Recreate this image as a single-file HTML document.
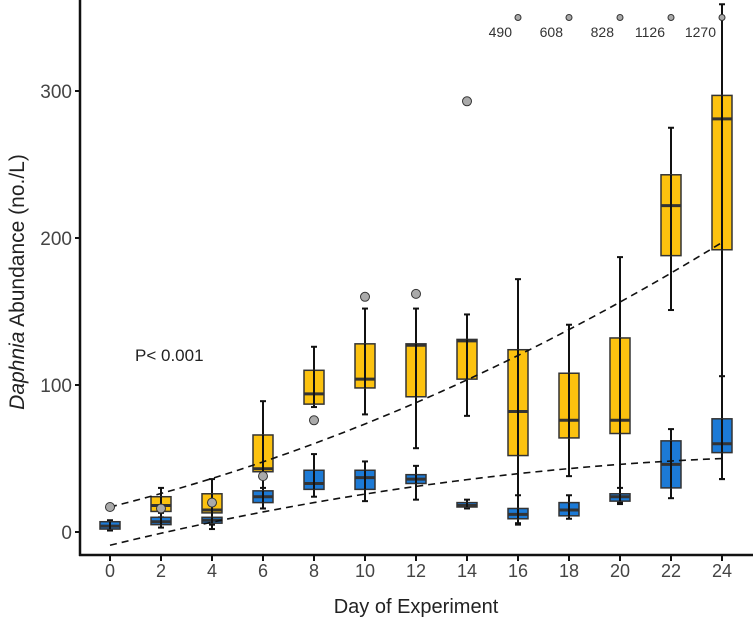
<!DOCTYPE html>
<html><head><meta charset="utf-8"><style>
body{margin:0;background:#fff}
svg{display:block;font-family:"Liberation Sans",sans-serif}
</style></head><body>
<svg id="chart" width="753" height="624">
<text x="416" y="613" text-anchor="middle" font-size="20" fill="#222">Day of Experiment</text>
<text transform="translate(24,282) rotate(-90)" text-anchor="middle" font-size="21" fill="#222"><tspan font-style="italic">Daphnia</tspan> Abundance (no./L)</text>
<text x="135" y="361" font-size="17" fill="#222">P&lt; 0.001</text>
</svg>
<script>
const days=[0,2,4,6,8,10,12,14,16,18,20,22,24];
const yelLo=[null,10,5,16,85,80,57,79,6,38,20,151,36];
const yelQ1=[null,14,13,41,87,98,92,104,52,64,67,188,192];
const yelMed=[null,18,15,43,94,104,127,130,82,76,76,222,281];
const yelQ3=[null,24,26,66,110,128,128,131,124,108,132,243,297];
const yelHi=[null,30,36,89,126,152,152,148,172,141,187,275,359];
const yelOut=[[17],[16],[20],[38],[76],[160],[162],[293],[350],[350],[350],[350],[350]];
const bluLo=[1,3,2,16,24,21,22,16,5,9,19,23,36];
const bluQ1=[2,5,6,20,29,29,33,17,9,11,21,30,54];
const bluMed=[4,7,8,24,33,37,36,18,12,15,24,46,60];
const bluQ3=[7,10,10,28,42,42,39,20,16,20,26,62,77];
const bluHi=[8,13,20,30,53,48,45,22,25,25,30,70,106];
const outLabels=["490","608","828","1126","1270"];
const outLabelDays=[16,18,20,22,24];
const yTicks=[0,100,200,300];
const trendYellow=[17,4.33,0.132];
const trendBlue=[-9,4.21,-0.073];

const X=d=>110+d*25.5;
const Y=v=>532-v*1.47;
const svg=document.getElementById('chart');
const NS='http://www.w3.org/2000/svg';
function mk(t,a,parent){const e=document.createElementNS(NS,t);for(const k in a)e.setAttribute(k,a[k]);(parent||svg).appendChild(e);return e;}

function box(d,lo,q1,md,q3,hi,fill,name){
  const g=mk('g',{});
  
  
  const x=X(d),w=20;
  mk('line',{x1:x,x2:x,y1:Y(hi),y2:Y(lo),stroke:'#111','stroke-width':2},g);
  mk('line',{x1:x-3,x2:x+3,y1:Y(hi),y2:Y(hi),stroke:'#111','stroke-width':2},g);
  mk('line',{x1:x-3,x2:x+3,y1:Y(lo),y2:Y(lo),stroke:'#111','stroke-width':2},g);
  mk('rect',{x:x-w/2,y:Y(q3),width:w,height:Math.max(Y(q1)-Y(q3),2),fill:fill,stroke:'#333','stroke-width':1.5},g);
  mk('line',{x1:x-w/2,x2:x+w/2,y1:Y(md),y2:Y(md),stroke:'#333','stroke-width':3},g);
  mk('line',{x1:x,x2:x,y1:Y(q3),y2:Y(q1),stroke:'#111','stroke-width':2},g);
}
function trend(c,name){
  let p='';
  for(let d=0;d<=24;d+=0.5){const v=c[0]+c[1]*d+c[2]*d*d;p+=(d?'L':'M')+X(d)+','+Y(v);}
  const e=mk('path',{d:p,fill:'none',stroke:'#111','stroke-width':1.6,'stroke-dasharray':'7,5'});
  
  
}
days.forEach((d,i)=>{ if(yelMed[i]!==null) box(d,yelLo[i],yelQ1[i],yelMed[i],yelQ3[i],yelHi[i],'#fcc20f','yellow-box-day-'+d); });
days.forEach((d,i)=>{ box(d,bluLo[i],bluQ1[i],bluMed[i],bluQ3[i],bluHi[i],'#1c7ad6','blue-box-day-'+d); });
trend(trendYellow,'yellow-trend-line');
trend(trendBlue,'blue-trend-line');
days.forEach((d,i)=>{ yelOut[i].forEach(v=>{
  const c=mk('circle',{cx:X(d),cy:Y(v),r:(v>=340?3:4.5),fill:'#aaa',stroke:'#333','stroke-width':1});
  
  
});});
outLabelDays.forEach((d,i)=>{
  const t=mk('text',{x:X(d)-6,y:37,'text-anchor':'end','font-size':14,fill:'#333'});
  t.textContent=outLabels[i];
  
  
});
const ax=mk('g',{});


mk('line',{x1:80,x2:80,y1:0,y2:556,stroke:'#111','stroke-width':2.5},ax);
mk('line',{x1:79,x2:753,y1:555,y2:555,stroke:'#111','stroke-width':2.5},ax);
yTicks.forEach(v=>{
  mk('line',{x1:75,x2:80,y1:Y(v),y2:Y(v),stroke:'#111','stroke-width':2},ax);
  const t=mk('text',{x:72,y:Y(v)+7,'text-anchor':'end','font-size':19,fill:'#444'},ax);
  t.textContent=v;
  
  
});
days.forEach(d=>{
  mk('line',{x1:X(d),x2:X(d),y1:555,y2:561,stroke:'#111','stroke-width':2},ax);
  const t=mk('text',{x:X(d),y:577,'text-anchor':'middle','font-size':18,fill:'#444'},ax);
  t.textContent=d;
  
  
});
</script>
</body></html>
